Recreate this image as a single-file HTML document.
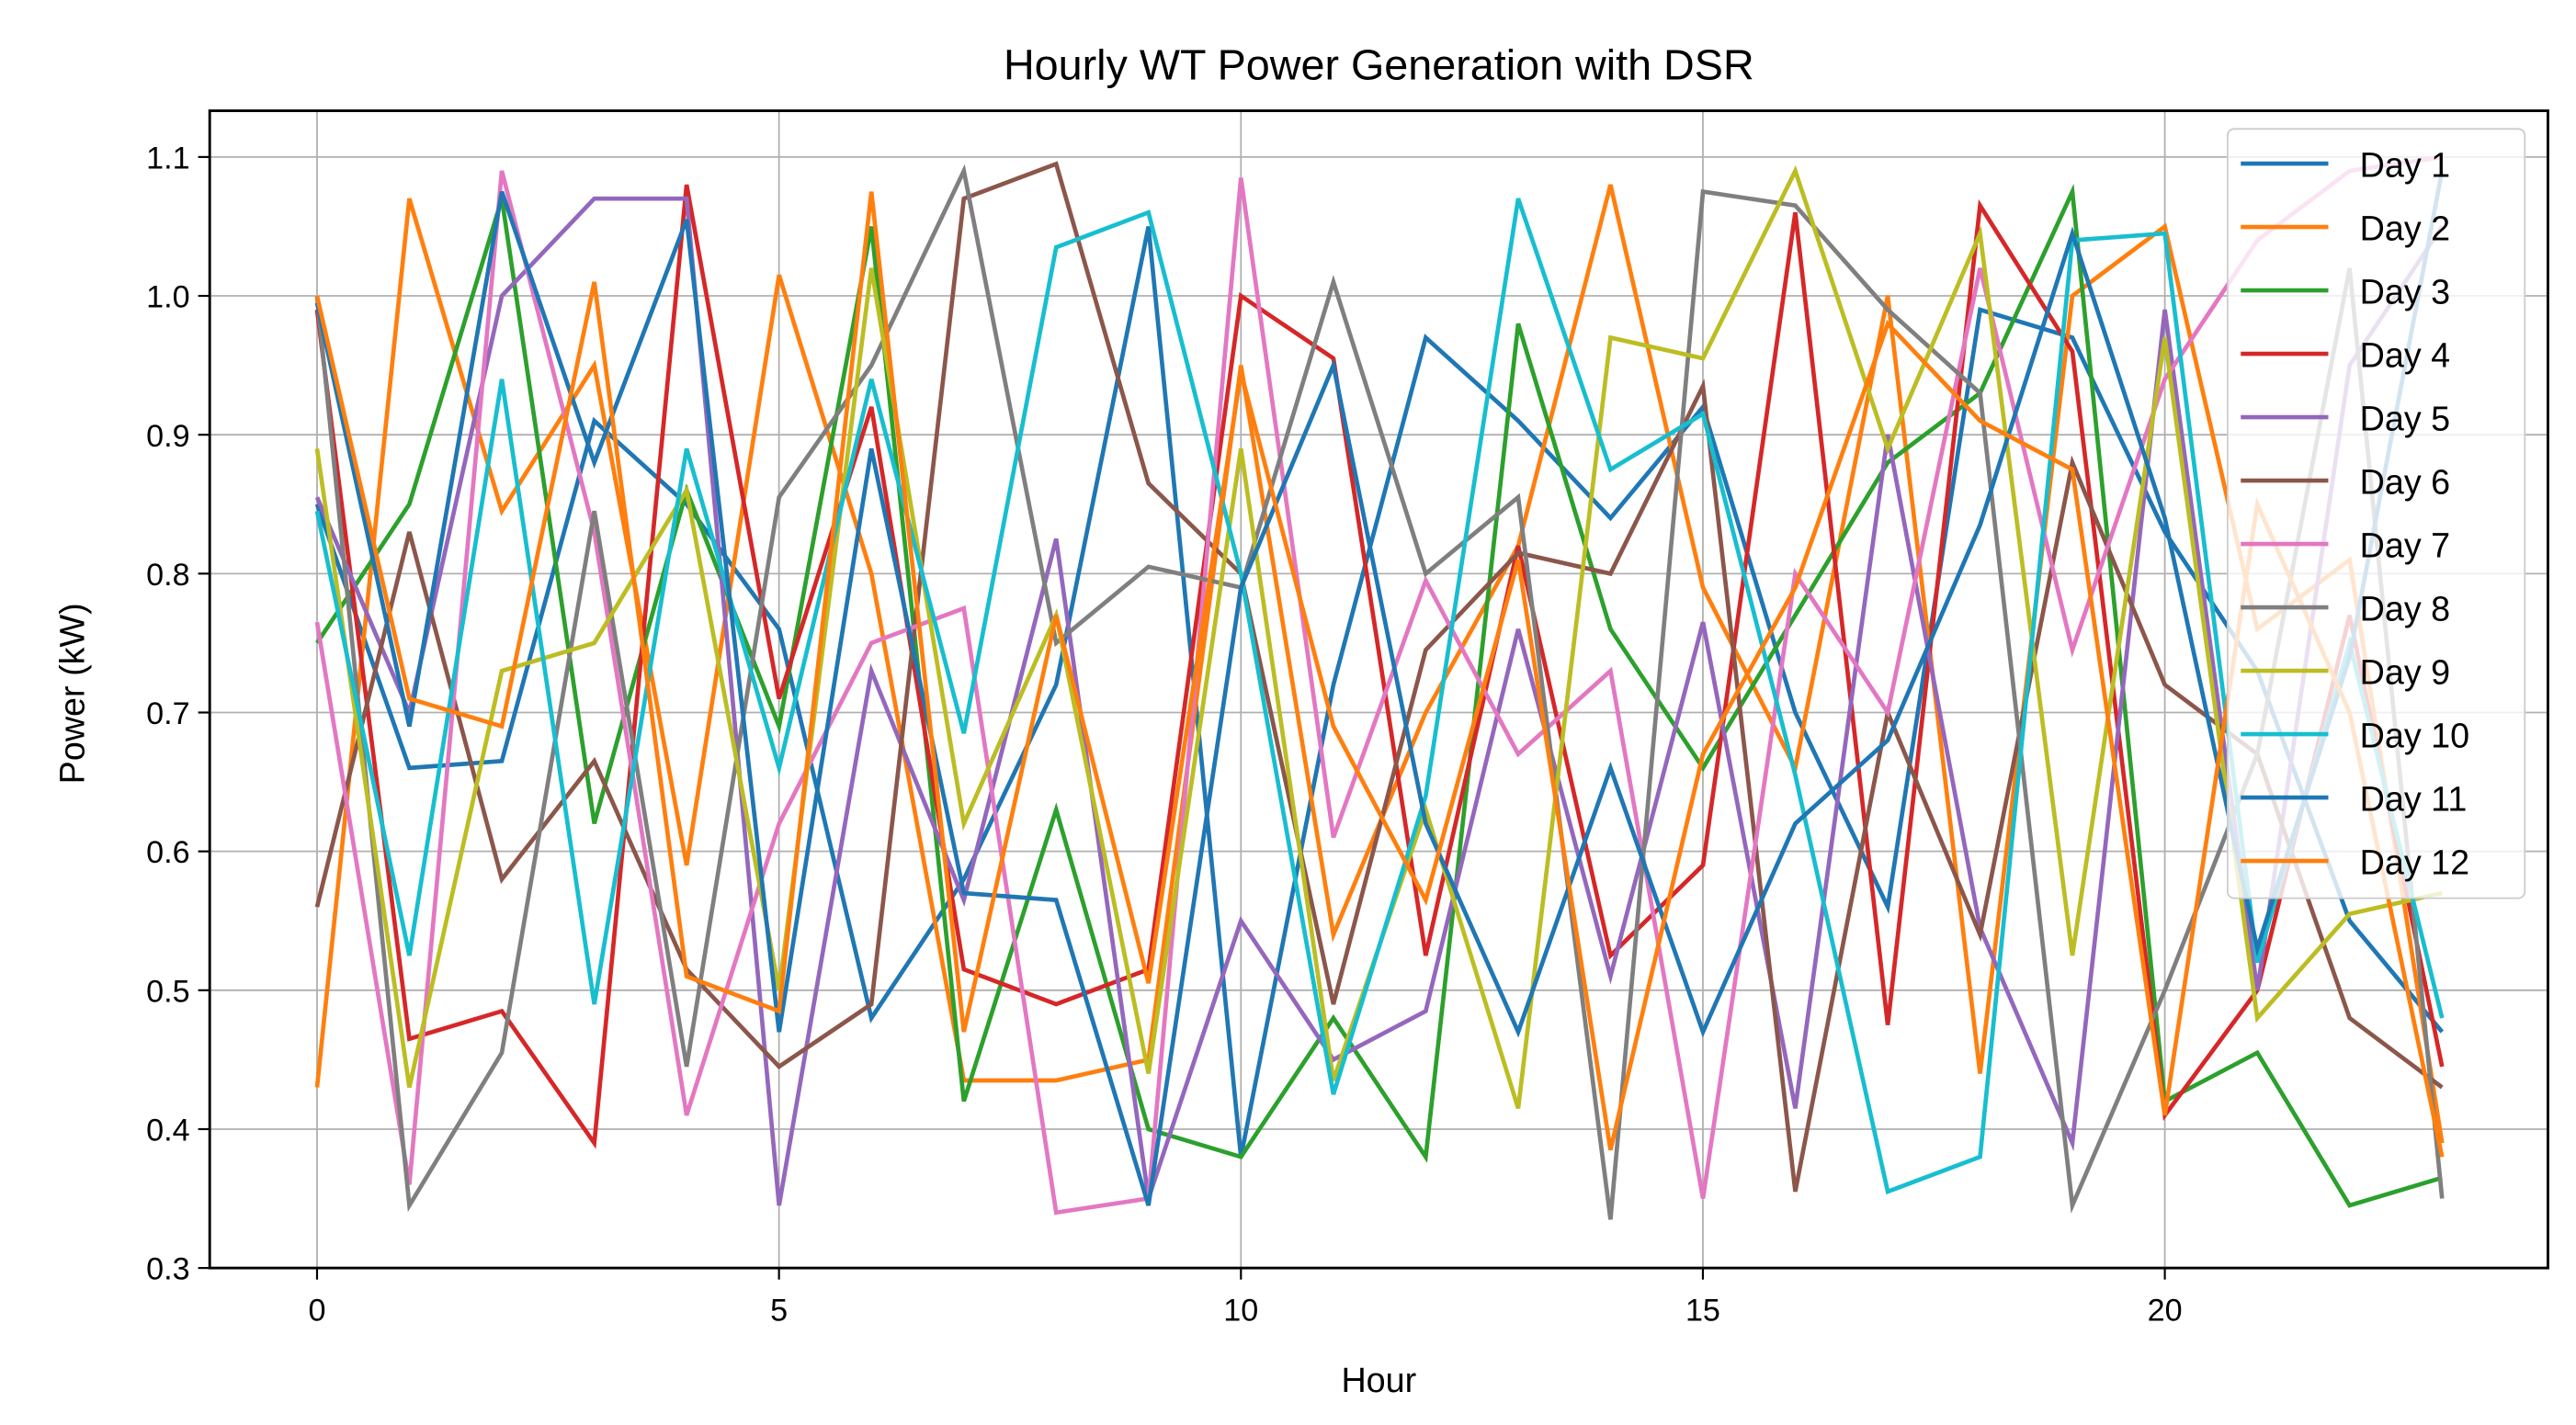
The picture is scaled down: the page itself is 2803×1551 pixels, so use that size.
<!DOCTYPE html>
<html><head><meta charset="utf-8"><style>
html,body{margin:0;padding:0;background:#fff}
svg{display:block}
text{font-family:"Liberation Sans","DejaVu Sans",sans-serif;fill:#000}
</style></head><body>
<svg id="chart" width="2803" height="1551" viewBox="0 0 1560 863" xmlns="http://www.w3.org/2000/svg">
<text x="835" y="48" font-size="26" text-anchor="middle">Hourly WT Power Generation with DSR</text>
<g id="grid"></g>
<g id="series"></g>
<rect x="127" y="67" width="1416" height="701" fill="none" stroke="#000" stroke-width="1.6"/>
<g id="ticks"></g>
<text x="835" y="843" font-size="21" text-anchor="middle">Hour</text>
<text transform="translate(51,420) rotate(-90)" font-size="21" text-anchor="middle">Power (kW)</text>
<g id="legend"></g>
</svg>
<script>
const hours = Array.from({length:24},(_, i)=>i);
const xTicks = [0,5,10,15,20];
const yTicks = [0.3,0.4,0.5,0.6,0.7,0.8,0.9,1.0,1.1];
const yTickLabels = ["0.3","0.4","0.5","0.6","0.7","0.8","0.9","1.0","1.1"];
const seriesNames = ["Day 1","Day 2","Day 3","Day 4","Day 5","Day 6","Day 7","Day 8","Day 9","Day 10","Day 11","Day 12"];
const seriesColors = ["#1f77b4","#ff7f0e","#2ca02c","#d62728","#9467bd","#8c564b","#e377c2","#7f7f7f","#bcbd22","#17becf","#1f77b4","#ff7f0e"];
const day1 = [0.85,0.66,0.665,0.91,0.85,0.76,0.48,0.58,0.72,1.05,0.38,0.72,0.97,0.91,0.84,0.92,0.70,0.56,0.99,0.97,0.83,0.73,0.55,0.47];
const day2 = [0.43,1.07,0.845,0.95,0.59,1.015,0.80,0.435,0.435,0.45,0.95,0.54,0.70,0.82,1.08,0.79,0.66,1.0,0.44,1.0,1.05,0.76,0.81,0.39];
const day3 = [0.75,0.85,1.07,0.62,0.86,0.69,1.05,0.42,0.63,0.40,0.38,0.48,0.38,0.98,0.76,0.66,0.77,0.88,0.93,1.075,0.42,0.455,0.345,0.365];
const day4 = [0.99,0.465,0.485,0.39,1.08,0.71,0.92,0.515,0.49,0.515,1.0,0.955,0.525,0.82,0.525,0.59,1.06,0.475,1.065,0.96,0.41,0.50,0.77,0.445];
const day5 = [0.855,0.70,1.0,1.07,1.07,0.345,0.73,0.565,0.825,0.35,0.55,0.45,0.485,0.76,0.51,0.765,0.415,0.90,0.545,0.39,0.99,0.50,0.95,1.05];
const day6 = [0.56,0.83,0.58,0.665,0.515,0.445,0.49,1.07,1.095,0.865,0.80,0.49,0.745,0.815,0.80,0.935,0.355,0.70,0.54,0.88,0.72,0.67,0.48,0.43];
const day7 = [0.765,0.36,1.09,0.83,0.41,0.62,0.75,0.775,0.34,0.35,1.085,0.61,0.795,0.67,0.73,0.35,0.80,0.70,1.02,0.745,0.94,1.04,1.09,1.10];
const day8 = [1.0,0.345,0.455,0.845,0.445,0.855,0.95,1.09,0.75,0.805,0.79,1.01,0.80,0.855,0.335,1.075,1.065,0.99,0.93,0.345,0.50,0.67,1.02,0.35];
const day9 = [0.89,0.43,0.73,0.75,0.86,0.50,1.02,0.62,0.77,0.44,0.89,0.435,0.63,0.415,0.97,0.955,1.09,0.89,1.045,0.525,0.97,0.48,0.555,0.57];
const day10 = [0.845,0.525,0.94,0.49,0.89,0.66,0.94,0.685,1.035,1.06,0.80,0.425,0.64,1.07,0.875,0.915,0.655,0.355,0.38,1.04,1.045,0.52,0.75,0.48];
const day11 = [0.995,0.69,1.075,0.88,1.055,0.47,0.89,0.57,0.565,0.345,0.79,0.95,0.62,0.47,0.66,0.47,0.62,0.68,0.835,1.045,0.84,0.53,0.74,1.09];
const day12 = [1.0,0.71,0.69,1.01,0.51,0.485,1.075,0.47,0.77,0.505,0.945,0.69,0.565,0.81,0.385,0.67,0.79,0.98,0.91,0.875,0.41,0.85,0.70,0.38];
const allSeries = [day1,day2,day3,day4,day5,day6,day7,day8,day9,day10,day11,day12];

const NS="http://www.w3.org/2000/svg";
const X0=192, XPER=(1311-192)/20;
const Y0=768, YMIN=0.3, YPER=(768-95)/0.8;
function xs(v){return X0+v*XPER;}
function ys(v){return Y0-(v-YMIN)*YPER;}
function mk(tag,attrs,parent){const e=document.createElementNS(NS,tag);for(const k in attrs)e.setAttribute(k,attrs[k]);parent.appendChild(e);return e;}
const grid=document.getElementById('grid'), ticks=document.getElementById('ticks'), ser=document.getElementById('series'), leg=document.getElementById('legend');

xTicks.forEach(t=>{
  const g=mk('line',{x1:xs(t),x2:xs(t),y1:67,y2:768,stroke:'#b0b0b0','stroke-width':1},grid);
  
  
  const tk=mk('line',{x1:xs(t),x2:xs(t),y1:768,y2:775,stroke:'#000','stroke-width':1.2},ticks);
  
  
  const tx=mk('text',{x:xs(t),y:800,'font-size':19,'text-anchor':'middle'},ticks);
  tx.textContent=String(t);
  
  
});
yTicks.forEach((t,i)=>{
  const g=mk('line',{x1:127,x2:1543,y1:ys(t),y2:ys(t),stroke:'#b0b0b0','stroke-width':1},grid);
  
  
  const tk=mk('line',{x1:120,x2:127,y1:ys(t),y2:ys(t),stroke:'#000','stroke-width':1.2},ticks);
  
  
  const tx=mk('text',{x:115,y:ys(t)+7,'font-size':19,'text-anchor':'end'},ticks);
  tx.textContent=yTickLabels[i];
  
  
});
allSeries.forEach((d,i)=>{
  const pts=d.map((v,h)=>xs(hours[h]).toFixed(1)+','+ys(v).toFixed(1)).join(' ');
  const p=mk('polyline',{points:pts,fill:'none',stroke:seriesColors[i],'stroke-width':2.6,'stroke-linejoin':'miter'},ser);
  
  
});
const lb=mk('rect',{x:1349,y:78,width:180,height:466,rx:4,fill:'#fff','fill-opacity':0.8,stroke:'#ccc','stroke-width':1},leg);


seriesNames.forEach((n,i)=>{
  const y=99+i*38.4;
  const l=mk('line',{x1:1357,x2:1410,y1:y,y2:y,stroke:seriesColors[i],'stroke-width':2.6},leg);
  
  
  const t=mk('text',{x:1429,y:y+8,'font-size':21},leg);
  t.textContent=n;
  
  
});
</script>
</body></html>
